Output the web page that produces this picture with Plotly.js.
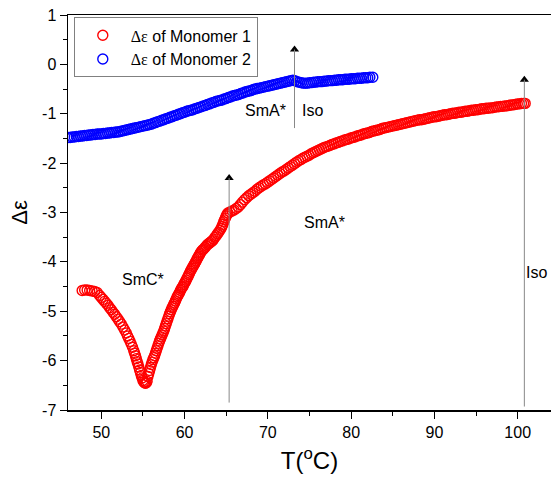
<!DOCTYPE html>
<html>
<head>
<meta charset="utf-8">
<script src="https://cdn.plot.ly/plotly-3.0.1.min.js"></script>
<style>html,body{margin:0;padding:0;background:#fff;}#chart{width:551px;height:488px;}</style>
</head>
<body>
<div id="chart"></div>
<script>
// Monomer 1 (red)
var t1 = [47.7,48.0,48.3,48.6,48.9,49.2,49.5,49.8,50.0,50.2,50.4,50.6,50.8,51.0,51.2,51.4,51.6,51.8,52.0,52.2,52.4,52.6,52.8,53.0,53.15,53.3,53.45,53.6,53.75,53.9,54.0,54.1,54.2,54.3,54.4,54.5,54.6,54.7,54.8,54.9,55.0,55.1,55.2,55.3,55.4,55.5,55.6,55.7,55.8,55.9,56.0,56.1,56.2,56.3,56.4,56.5,56.6,56.7,56.8,56.9,57.0,57.1,57.2,57.3,57.4,57.5,57.6,57.7,57.8,57.9,58.0,58.1,58.2,58.3,58.4,58.5,58.6,58.7,58.8,58.9,59.0,59.1,59.2,59.3,59.4,59.5,59.6,59.7,59.8,59.9,60.0,60.1,60.2,60.3,60.4,60.5,60.6,60.7,60.8,60.9,61.0,61.1,61.2,61.3,61.4,61.5,61.6,61.7,61.8,61.9,62.0,62.15,62.3,62.45,62.6,62.75,62.9,63.05,63.2,63.35,63.5,63.65,63.8,63.95,64.1,64.25,64.4,64.5,64.6,64.7,64.8,64.9,65.0,65.1,65.2,65.45,65.7,65.95,66.2,66.45,66.7,66.95,67.2,67.45,67.7,67.95,68.2,68.45,68.7,68.95,69.2,69.45,69.7,69.95,70.2,70.45,70.7,70.95,71.2,71.45,71.7,71.95,72.2,72.45,72.7,72.95,73.2,73.45,73.7,73.95,74.2,74.45,74.7,74.95,75.2,75.45,75.7,75.95,76.2,76.45,76.7,76.95,77.2,77.45,77.7,77.95,78.2,78.45,78.7,78.95,79.2,79.45,79.7,79.95,80.2,80.45,80.7,80.95,81.2,81.45,81.7,81.95,82.2,82.45,82.7,82.95,83.2,83.45,83.7,83.95,84.2,84.45,84.7,84.95,85.2,85.45,85.7,85.95,86.2,86.45,86.7,86.95,87.2,87.45,87.7,87.95,88.2,88.45,88.7,88.95,89.2,89.45,89.7,89.95,90.2,90.45,90.7,90.95,91.2,91.45,91.7,91.95,92.2,92.45,92.7,92.95,93.2,93.45,93.7,93.95,94.2,94.45,94.7,94.95,95.2,95.45,95.7,95.95,96.2,96.45,96.7,96.95,97.2,97.45,97.7,97.95,98.2,98.45,98.7,98.95,99.2,99.45,99.7,99.95,100.2,100.45,100.7,100.9];
var d1 = [-4.58,-4.57,-4.57,-4.58,-4.59,-4.60,-4.62,-4.68,-4.72,-4.76,-4.80,-4.84,-4.88,-4.93,-4.97,-5.02,-5.06,-5.11,-5.16,-5.21,-5.26,-5.32,-5.38,-5.44,-5.50,-5.55,-5.61,-5.67,-5.73,-5.80,-5.85,-5.90,-5.96,-6.02,-6.07,-6.13,-6.19,-6.24,-6.30,-6.35,-6.40,-6.43,-6.45,-6.46,-6.45,-6.42,-6.32,-6.26,-6.20,-6.14,-6.08,-6.03,-5.98,-5.94,-5.90,-5.85,-5.80,-5.75,-5.70,-5.65,-5.60,-5.56,-5.52,-5.48,-5.44,-5.40,-5.35,-5.30,-5.25,-5.20,-5.15,-5.10,-5.05,-5.01,-4.97,-4.93,-4.90,-4.86,-4.83,-4.79,-4.75,-4.71,-4.68,-4.65,-4.62,-4.58,-4.55,-4.52,-4.50,-4.46,-4.43,-4.40,-4.37,-4.33,-4.30,-4.26,-4.23,-4.19,-4.16,-4.13,-4.10,-4.07,-4.04,-4.01,-3.98,-3.94,-3.91,-3.88,-3.85,-3.82,-3.79,-3.76,-3.74,-3.71,-3.68,-3.65,-3.63,-3.61,-3.59,-3.57,-3.54,-3.50,-3.47,-3.43,-3.40,-3.36,-3.32,-3.28,-3.24,-3.19,-3.15,-3.11,-3.07,-3.04,-3.01,-2.99,-2.97,-2.95,-2.92,-2.89,-2.84,-2.79,-2.74,-2.70,-2.66,-2.63,-2.60,-2.57,-2.53,-2.50,-2.47,-2.44,-2.42,-2.39,-2.36,-2.33,-2.30,-2.27,-2.24,-2.21,-2.18,-2.16,-2.13,-2.10,-2.07,-2.04,-2.01,-1.98,-1.95,-1.93,-1.90,-1.88,-1.86,-1.84,-1.81,-1.79,-1.77,-1.75,-1.73,-1.71,-1.69,-1.67,-1.66,-1.64,-1.62,-1.61,-1.59,-1.58,-1.56,-1.55,-1.53,-1.52,-1.51,-1.49,-1.48,-1.47,-1.45,-1.44,-1.43,-1.41,-1.40,-1.39,-1.38,-1.36,-1.35,-1.34,-1.33,-1.32,-1.30,-1.29,-1.28,-1.27,-1.26,-1.25,-1.24,-1.23,-1.22,-1.21,-1.20,-1.19,-1.18,-1.17,-1.16,-1.15,-1.14,-1.13,-1.12,-1.12,-1.11,-1.10,-1.09,-1.08,-1.07,-1.06,-1.06,-1.05,-1.04,-1.03,-1.02,-1.02,-1.01,-1.00,-0.99,-0.99,-0.98,-0.97,-0.97,-0.96,-0.95,-0.95,-0.94,-0.93,-0.93,-0.92,-0.92,-0.91,-0.90,-0.90,-0.89,-0.89,-0.88,-0.88,-0.87,-0.86,-0.86,-0.85,-0.85,-0.84,-0.84,-0.83,-0.82,-0.82,-0.81,-0.80,-0.80,-0.79,-0.79,-0.79];
// Monomer 2 (blue)
var t2 = [46.0,46.25,46.5,46.75,47.0,47.25,47.5,47.75,48.0,48.25,48.5,48.75,49.0,49.25,49.5,49.75,50.0,50.25,50.5,50.75,51.0,51.25,51.5,51.75,52.0,52.25,52.5,52.75,53.0,53.25,53.5,53.75,54.0,54.25,54.5,54.75,55.0,55.25,55.5,55.75,56.0,56.25,56.5,56.75,57.0,57.25,57.5,57.75,58.0,58.25,58.5,58.75,59.0,59.25,59.5,59.75,60.0,60.25,60.5,60.75,61.0,61.25,61.5,61.75,62.0,62.25,62.5,62.75,63.0,63.25,63.5,63.75,64.0,64.25,64.5,64.75,65.0,65.25,65.5,65.75,66.0,66.25,66.5,66.75,67.0,67.25,67.5,67.75,68.0,68.25,68.5,68.75,69.0,69.25,69.5,69.75,70.0,70.25,70.5,70.75,71.0,71.25,71.5,71.75,72.0,72.25,72.5,72.75,73.0,73.25,73.5,73.75,74.0,74.25,74.5,74.75,75.0,75.25,75.5,75.75,76.0,76.25,76.5,76.75,77.0,77.25,77.5,77.75,78.0,78.25,78.5,78.75,79.0,79.25,79.5,79.75,80.0,80.25,80.5,80.75,81.0,81.25,81.5,81.75,82.0,82.25,82.6];
var d2 = [-1.48,-1.48,-1.47,-1.47,-1.46,-1.46,-1.45,-1.45,-1.44,-1.44,-1.43,-1.43,-1.42,-1.42,-1.41,-1.41,-1.41,-1.40,-1.40,-1.39,-1.39,-1.38,-1.38,-1.37,-1.37,-1.36,-1.35,-1.34,-1.33,-1.32,-1.31,-1.30,-1.29,-1.28,-1.27,-1.26,-1.25,-1.24,-1.23,-1.22,-1.21,-1.19,-1.18,-1.16,-1.15,-1.13,-1.12,-1.10,-1.09,-1.07,-1.06,-1.04,-1.03,-1.01,-1.00,-0.98,-0.97,-0.95,-0.94,-0.93,-0.92,-0.90,-0.89,-0.87,-0.86,-0.84,-0.83,-0.81,-0.80,-0.78,-0.77,-0.75,-0.74,-0.73,-0.72,-0.70,-0.69,-0.67,-0.66,-0.64,-0.63,-0.62,-0.61,-0.59,-0.58,-0.56,-0.55,-0.54,-0.53,-0.51,-0.50,-0.49,-0.48,-0.47,-0.46,-0.45,-0.44,-0.43,-0.42,-0.41,-0.40,-0.39,-0.38,-0.37,-0.36,-0.35,-0.34,-0.33,-0.32,-0.33,-0.35,-0.36,-0.37,-0.38,-0.38,-0.38,-0.37,-0.37,-0.36,-0.36,-0.35,-0.35,-0.35,-0.34,-0.34,-0.33,-0.33,-0.33,-0.32,-0.32,-0.31,-0.31,-0.31,-0.30,-0.30,-0.30,-0.29,-0.29,-0.29,-0.28,-0.28,-0.28,-0.27,-0.27,-0.27,-0.26,-0.26];

var xTicks = [50,60,70,80,90,100];
var xTickText = ['50','60','70','80','90','100'];
var yTicks = [1,0,-1,-2,-3,-4,-5,-6,-7];
var yTickText = ['1','0','-1','-2','-3','-4','-5','-6','-7'];

// transition markers: T, bottom and top of each vertical arrow
var arrowT = [65.35, 73.2, 100.8];
var arrowBottom = [-6.85, -1.29, -6.93];
var arrowTop = [-2.3, 0.3, -0.31];

// phase labels
var labelText = ['SmC*','SmA*','SmA*','Iso','Iso'];
var labelX = [55.0, 69.7, 76.8, 75.3, 102.2];
var labelY = [-4.35, -0.93, -3.21, -0.93, -4.22];

var FONT = 'Arial, "Liberation Sans", sans-serif';
var dEps = '<span style="font-family:' + "'Liberation Serif',serif" + '">Δε</span>';

var traces = [
  {x: t1, y: d1, type: 'scatter', mode: 'markers', hoverinfo: 'skip',
   name: dEps + ' of Monomer 1',
   marker: {symbol: 'circle-open', size: 10, color: '#ff0000', line: {width: 1.4, color: '#ff0000'}}},
  {x: t2, y: d2, type: 'scatter', mode: 'markers', hoverinfo: 'skip',
   name: dEps + ' of Monomer 2',
   marker: {symbol: 'circle-open', size: 10, color: '#0000ff', line: {width: 1.4, color: '#0000ff'}}},
  {x: arrowT, y: arrowTop, type: 'scatter', mode: 'markers', showlegend: false, hoverinfo: 'skip',
   marker: {symbol: 'triangle-up', size: 8, color: '#000000', line: {width: 0}}}
];

var shapes = [];
var annotations = [];
for (var i = 0; i < arrowT.length; i++) {
  shapes.push({type: 'line', xref: 'x', yref: 'y', x0: arrowT[i], x1: arrowT[i],
    y0: arrowBottom[i], y1: arrowTop[i], line: {color: '#888888', width: 1}});
}
for (var j = 0; j < labelText.length; j++) {
  annotations.push({x: labelX[j], y: labelY[j], xref: 'x', yref: 'y', text: labelText[j],
    showarrow: false, font: {family: FONT, size: 16, color: '#000'}});
}

var layout = {
  width: 551, height: 488,
  margin: {l: 68, r: 0, t: 15, b: 78},
  paper_bgcolor: '#ffffff', plot_bgcolor: '#ffffff',
  font: {family: FONT, color: '#000'},
  showlegend: true,
  legend: {x: 0.012, y: 0.994, xanchor: 'left', yanchor: 'top',
    bordercolor: '#808080', borderwidth: 1, bgcolor: '#ffffff',
    font: {family: FONT, size: 16, color: '#000'}, tracegroupgap: 0, itemwidth: 46},
  xaxis: {range: [46, 104], showgrid: false, zeroline: false,
    showline: true, linecolor: '#000', linewidth: 1.5, mirror: true,
    ticks: 'outside', ticklen: 7, tickwidth: 1, tickcolor: '#000',
    tickvals: xTicks, ticktext: xTickText,
    tickfont: {family: FONT, size: 16, color: '#000'},
    minor: {dtick: 5, tick0: 45, ticks: 'outside', ticklen: 4, tickwidth: 1, tickcolor: '#000', showgrid: false},
    title: {text: 'T(<sup>o</sup>C)', font: {family: FONT, size: 24, color: '#000'}, standoff: 12}},
  yaxis: {range: [-7, 1], showgrid: false, zeroline: false,
    showline: true, linecolor: '#000', linewidth: 1.5, mirror: false,
    ticks: 'outside', ticklen: 7, tickwidth: 1, tickcolor: '#000',
    tickvals: yTicks, ticktext: yTickText,
    tickfont: {family: FONT, size: 16, color: '#000'},
    minor: {dtick: 0.5, tick0: 0.5, ticks: 'outside', ticklen: 4, tickwidth: 1, tickcolor: '#000', showgrid: false},
    title: {text: 'Δε', font: {family: FONT, size: 22, color: '#000'}, standoff: 8}},
  shapes: shapes,
  annotations: annotations
};

Plotly.newPlot('chart', traces, layout, {displayModeBar: false, staticPlot: true});
</script>
</body>
</html>
